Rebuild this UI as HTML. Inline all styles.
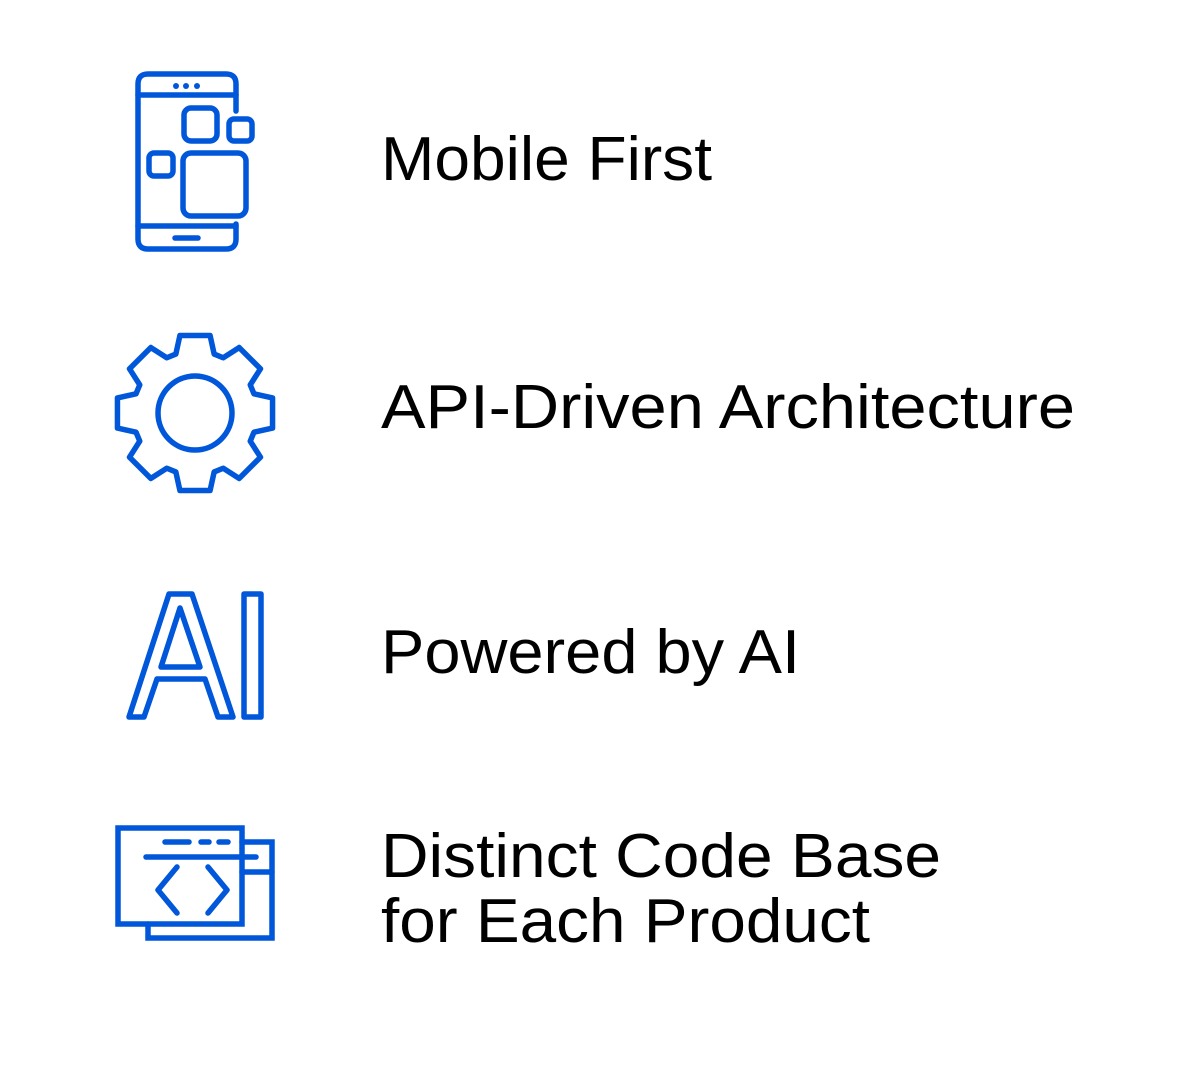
<!DOCTYPE html>
<html><head><meta charset="utf-8"><style>html,body{margin:0;padding:0;background:#fff;}svg{display:block}</style></head>
<body>
<svg width="1200" height="1065" viewBox="0 0 1200 1065" xmlns="http://www.w3.org/2000/svg">
<g fill="none" stroke="#0057DA" stroke-width="5.5" stroke-linejoin="round" stroke-linecap="round">
  <!-- phone -->
  <path d="M236 111 V84 Q236 74 226 74 H148 Q138 74 138 84 V239 Q138 249 148 249 H226 Q236 249 236 239 V224"/>
  <line x1="138" y1="95" x2="236" y2="95"/>
  <line x1="138" y1="226" x2="236" y2="226"/>
  <line x1="175" y1="238" x2="198" y2="238"/>
  <rect x="184" y="108" width="33" height="33" rx="7"/>
  <rect x="229" y="119" width="23" height="22" rx="5"/>
  <rect x="149" y="153" width="24" height="23" rx="5"/>
  <rect x="183" y="153" width="63" height="63" rx="8"/>
  <!-- gear -->
  <g transform="translate(195,413)">
    <polygon points="58.97,-19.16 77.55,-15.07 77.55,15.07 58.97,19.16 55.24,28.15 65.49,44.18 44.18,65.49 28.15,55.24 19.16,58.97 15.07,77.55 -15.07,77.55 -19.16,58.97 -28.15,55.24 -44.18,65.49 -65.49,44.18 -55.24,28.15 -58.97,19.16 -77.55,15.07 -77.55,-15.07 -58.97,-19.16 -55.24,-28.15 -65.49,-44.18 -44.18,-65.49 -28.15,-55.24 -19.16,-58.97 -15.07,-77.55 15.07,-77.55 19.16,-58.97 28.15,-55.24 44.18,-65.49 65.49,-44.18 55.24,-28.15"/>
    <circle cx="0" cy="0" r="37"/>
  </g>
  <!-- AI -->
  <polygon points="129,717 169,594 192,594 233,717 218,717 205,679 157,679 144,717"/>
  <polygon points="180,608 200,667 161,667"/>
  <rect x="244" y="594" width="17" height="123"/>
  <!-- code -->
  <rect x="118" y="828" width="124" height="96" stroke-linejoin="miter"/>
  <polyline points="242,842 272,842 272,938 148,938 148,924" stroke-linejoin="miter"/>
  <line x1="146" y1="857" x2="256" y2="857"/>
  <line x1="242" y1="872" x2="272" y2="872"/>
  <line x1="165" y1="842" x2="189" y2="842"/>
  <line x1="201" y1="842" x2="209" y2="842"/>
  <line x1="219" y1="842" x2="228" y2="842"/>
  <polyline points="177,867 158,890 177,913"/>
  <polyline points="208,867 227,890 208,913"/>
</g>
<g fill="#0057DA">
  <circle cx="176" cy="86" r="3"/>
  <circle cx="186" cy="86" r="3"/>
  <circle cx="197" cy="86" r="3"/>
</g>
<g font-family="Liberation Sans, sans-serif" font-size="62" fill="#000">
  <text x="381" y="180" textLength="331" lengthAdjust="spacingAndGlyphs">Mobile First</text>
  <text x="381" y="428" textLength="694" lengthAdjust="spacingAndGlyphs">API-Driven Architecture</text>
  <text x="381" y="673" textLength="419" lengthAdjust="spacingAndGlyphs">Powered by AI</text>
  <text x="381" y="877" textLength="560" lengthAdjust="spacingAndGlyphs">Distinct Code Base</text>
  <text x="381" y="942" textLength="489" lengthAdjust="spacingAndGlyphs">for Each Product</text>
</g>
</svg>
</body></html>
